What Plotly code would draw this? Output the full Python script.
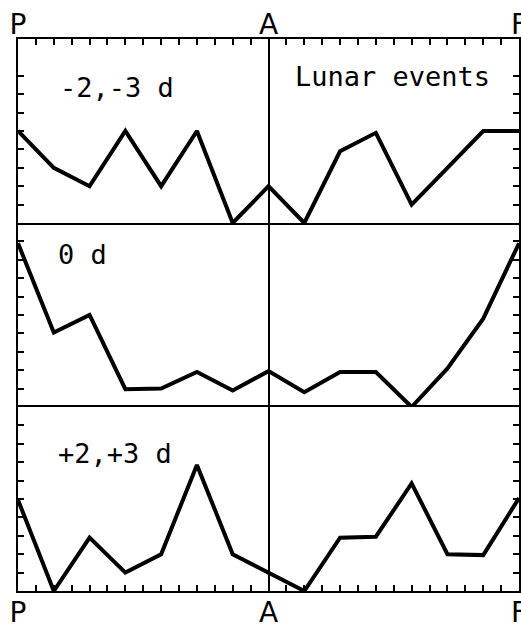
import plotly.graph_objects as go
from plotly.subplots import make_subplots

# Phase positions: 15 steps from perigee (P) through apogee (A) to perigee (F)
x_pos = list(range(15))
tick_vals = [0, 7, 14]
tick_text = ["P", "A", "F"]

# Series values (panel units, 0-10)
minus23 = [5.0, 3.0, 2.0, 5.0, 2.0, 5.0, 0.0, 2.0, 0.0, 3.9, 4.9, 1.0, 3.0, 5.0, 5.0]
zero_d = [8.9, 4.05, 5.0, 0.97, 1.0, 1.9, 0.9, 1.95, 0.8, 1.9, 1.9, 0.0, 2.1, 4.8, 8.9]
plus23 = [4.95, 0.0, 2.9, 1.0, 2.0, 6.85, 2.0, 1.0, 0.0, 2.9, 2.95, 5.85, 2.0, 1.95, 5.05]

panel_labels = ["-2,-3 d", "0 d", "+2,+3 d"]
title_text = "Lunar events"

FONT = "DejaVu Sans, sans-serif"
MONO = "DejaVu Sans Mono, Liberation Mono, monospace"

fig = make_subplots(rows=3, cols=1, vertical_spacing=0, shared_xaxes=False)

series = [minus23, zero_d, plus23]
for i, s in enumerate(series):
    fig.add_trace(go.Scatter(x=x_pos, y=s, mode="lines",
                             line=dict(color="black", width=4),
                             showlegend=False, hoverinfo="skip"),
                  row=i + 1, col=1)

for i in range(3):
    r = i + 1
    xa = dict(range=[0, 14], linecolor="black", linewidth=2,
              tickvals=tick_vals, ticktext=tick_text,
              showgrid=True, gridcolor="black", gridwidth=1.5,
              zeroline=False, automargin=False, ticklabeloverflow="allow",
              tickfont=dict(family=FONT, size=28, color="black"))
    minor = dict(dtick=0.5, ticks="inside", ticklen=6, tickwidth=1.5,
                 tickcolor="black", showgrid=False)
    if r == 1:
        xa.update(side="top", showline=True, mirror=True, ticks="inside",
                  ticklen=6, tickwidth=1.5, tickcolor="black",
                  showticklabels=True, minor=minor, ticklabelstandoff=-8)
    elif r == 3:
        xa.update(side="bottom", showline=True, mirror=True, ticks="inside",
                  ticklen=6, tickwidth=1.5, tickcolor="black",
                  showticklabels=True, minor=minor, ticklabelstandoff=-5)
    else:
        xa.update(showline=False, ticks="", showticklabels=False)
    fig.update_xaxes(**xa, row=r, col=1)

    ytv = list(range(1, 9)) if r == 1 else list(range(1, 10))
    fig.update_yaxes(range=[0, 10], showline=True, linecolor="black",
                     linewidth=2, mirror="allticks", ticks="inside",
                     ticklen=6, tickwidth=1.5, tickcolor="black",
                     tickvals=ytv, showticklabels=False, showgrid=False,
                     zeroline=False, automargin=False, row=r, col=1)

ann_font = dict(family=MONO, size=27, color="black")
fig.add_annotation(text=panel_labels[0], xref="x domain", yref="y domain",
                   x=0.08, y=0.735, xanchor="left", yanchor="middle",
                   showarrow=False, font=ann_font)
fig.add_annotation(text=title_text, xref="x domain", yref="y domain",
                   x=0.548, y=0.795, xanchor="left", yanchor="middle",
                   showarrow=False, font=ann_font)
fig.add_annotation(text=panel_labels[1], xref="x2 domain", yref="y2 domain",
                   x=0.076, y=0.83, xanchor="left", yanchor="middle",
                   showarrow=False, font=ann_font)
fig.add_annotation(text=panel_labels[2], xref="x3 domain", yref="y3 domain",
                   x=0.076, y=0.745, xanchor="left", yanchor="middle",
                   showarrow=False, font=ann_font)

fig.update_layout(width=521, height=628,
                  margin=dict(l=18, r=2, t=39, b=37),
                  plot_bgcolor="white", paper_bgcolor="white")

fig.write_html("out.html")
